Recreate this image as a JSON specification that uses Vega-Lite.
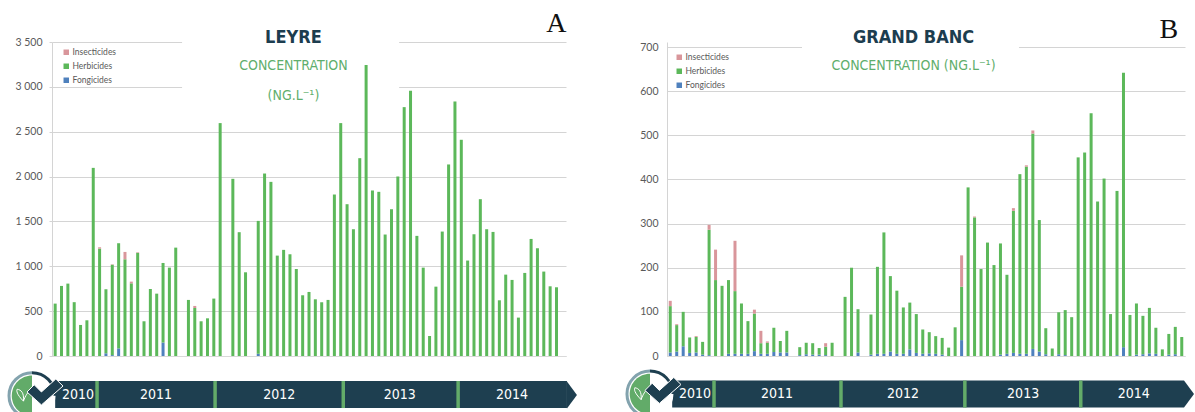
{
"$schema":"https://vega.github.io/schema/vega-lite/v6.json",
"background":"white",
"padding":{"left":3,"top":9,"right":0,"bottom":0},
"bounds":"flush",
"spacing":101,
"resolve":{"scale":{"color":"independent"},"legend":{"color":"independent"}},
"config":{"view":{"stroke":null},"scale":{"continuousPadding":0}},
"datasets":{
"leyre":[
{"n":0,"type":"Herbicides","v":584},{"n":1,"type":"Herbicides","v":781},{"n":2,"type":"Herbicides","v":807},{"n":3,"type":"Herbicides","v":600},{"n":4,"type":"Herbicides","v":346},{"n":5,"type":"Herbicides","v":398},{"n":6,"type":"Herbicides","v":2097},{"n":7,"type":"Herbicides","v":1197},{"n":7,"type":"Insecticides","v":15},{"n":8,"type":"Fongicides","v":30},{"n":8,"type":"Herbicides","v":714},{"n":9,"type":"Fongicides","v":10},{"n":9,"type":"Herbicides","v":1007},{"n":9,"type":"Insecticides","v":5},{"n":10,"type":"Fongicides","v":85},{"n":10,"type":"Herbicides","v":1172},{"n":11,"type":"Herbicides","v":1078},{"n":11,"type":"Insecticides","v":82},{"n":12,"type":"Herbicides","v":810},{"n":12,"type":"Insecticides","v":19},{"n":13,"type":"Herbicides","v":1150},{"n":13,"type":"Insecticides","v":6},{"n":14,"type":"Herbicides","v":387},{"n":15,"type":"Herbicides","v":747},{"n":16,"type":"Herbicides","v":695},{"n":17,"type":"Fongicides","v":150},{"n":17,"type":"Herbicides","v":887},{"n":18,"type":"Herbicides","v":985},{"n":19,"type":"Herbicides","v":1208},
{"n":21,"type":"Herbicides","v":625},{"n":22,"type":"Herbicides","v":535},{"n":22,"type":"Insecticides","v":23},{"n":23,"type":"Herbicides","v":387},{"n":24,"type":"Herbicides","v":420},{"n":25,"type":"Herbicides","v":640},{"n":26,"type":"Herbicides","v":2596},
{"n":28,"type":"Herbicides","v":1975},{"n":29,"type":"Herbicides","v":1380},{"n":30,"type":"Herbicides","v":933},
{"n":32,"type":"Fongicides","v":25},{"n":32,"type":"Herbicides","v":1481},{"n":33,"type":"Herbicides","v":2034},{"n":34,"type":"Herbicides","v":1941},{"n":35,"type":"Herbicides","v":1119},{"n":36,"type":"Herbicides","v":1183},{"n":37,"type":"Herbicides","v":1134},{"n":38,"type":"Herbicides","v":970},{"n":39,"type":"Herbicides","v":677},{"n":40,"type":"Herbicides","v":714},{"n":41,"type":"Herbicides","v":632},{"n":42,"type":"Herbicides","v":599},{"n":43,"type":"Herbicides","v":625},{"n":44,"type":"Herbicides","v":1800},{"n":45,"type":"Herbicides","v":2596},{"n":46,"type":"Herbicides","v":1692},{"n":47,"type":"Herbicides","v":1413},{"n":48,"type":"Herbicides","v":2205},{"n":49,"type":"Herbicides","v":3243},{"n":50,"type":"Herbicides","v":1845},{"n":51,"type":"Herbicides","v":1830},{"n":52,"type":"Herbicides","v":1354},{"n":53,"type":"Herbicides","v":1636},{"n":54,"type":"Herbicides","v":2001},{"n":55,"type":"Herbicides","v":2774},{"n":56,"type":"Herbicides","v":2956},{"n":57,"type":"Herbicides","v":1339},{"n":58,"type":"Herbicides","v":985},{"n":59,"type":"Herbicides","v":223},{"n":60,"type":"Herbicides","v":773},{"n":61,"type":"Herbicides","v":1387},{"n":62,"type":"Herbicides","v":2135},{"n":63,"type":"Herbicides","v":2837},{"n":64,"type":"Herbicides","v":2410},{"n":65,"type":"Herbicides","v":1064},{"n":66,"type":"Herbicides","v":1357},{"n":67,"type":"Herbicides","v":1748},{"n":68,"type":"Herbicides","v":1413},{"n":69,"type":"Herbicides","v":1383},{"n":70,"type":"Herbicides","v":621},{"n":71,"type":"Herbicides","v":907},{"n":72,"type":"Herbicides","v":848},{"n":73,"type":"Herbicides","v":428},{"n":74,"type":"Herbicides","v":926},{"n":75,"type":"Herbicides","v":1305},{"n":76,"type":"Herbicides","v":1201},{"n":77,"type":"Herbicides","v":941},{"n":78,"type":"Herbicides","v":777},{"n":79,"type":"Herbicides","v":766}],
"grandbanc":[
{"n":0,"type":"Fongicides","v":8},{"n":0,"type":"Herbicides","v":105},{"n":0,"type":"Insecticides","v":12},{"n":1,"type":"Fongicides","v":10},{"n":1,"type":"Herbicides","v":60},{"n":1,"type":"Insecticides","v":2},{"n":2,"type":"Fongicides","v":22},{"n":2,"type":"Herbicides","v":78},{"n":3,"type":"Fongicides","v":7},{"n":3,"type":"Herbicides","v":35},{"n":4,"type":"Fongicides","v":8},{"n":4,"type":"Herbicides","v":35},{"n":4,"type":"Insecticides","v":2},{"n":5,"type":"Fongicides","v":3},{"n":5,"type":"Herbicides","v":29},{"n":6,"type":"Fongicides","v":2},{"n":6,"type":"Herbicides","v":284},{"n":6,"type":"Insecticides","v":11},{"n":7,"type":"Herbicides","v":172},{"n":7,"type":"Insecticides","v":69},{"n":8,"type":"Herbicides","v":159},{"n":9,"type":"Fongicides","v":5},{"n":9,"type":"Herbicides","v":167},{"n":10,"type":"Fongicides","v":5},{"n":10,"type":"Herbicides","v":142},{"n":10,"type":"Insecticides","v":114},{"n":11,"type":"Fongicides","v":5},{"n":11,"type":"Herbicides","v":114},{"n":12,"type":"Fongicides","v":5},{"n":12,"type":"Herbicides","v":74},{"n":13,"type":"Fongicides","v":11},{"n":13,"type":"Herbicides","v":85},{"n":13,"type":"Insecticides","v":9},{"n":14,"type":"Fongicides","v":5},{"n":14,"type":"Herbicides","v":24},{"n":14,"type":"Insecticides","v":28},{"n":15,"type":"Fongicides","v":5},{"n":15,"type":"Herbicides","v":25},{"n":15,"type":"Insecticides","v":3},{"n":16,"type":"Fongicides","v":9},{"n":16,"type":"Herbicides","v":55},{"n":17,"type":"Fongicides","v":8},{"n":17,"type":"Herbicides","v":26},{"n":18,"type":"Fongicides","v":8},{"n":18,"type":"Herbicides","v":49},
{"n":20,"type":"Fongicides","v":2},{"n":20,"type":"Herbicides","v":18},{"n":21,"type":"Fongicides","v":4},{"n":21,"type":"Herbicides","v":26},{"n":22,"type":"Fongicides","v":3},{"n":22,"type":"Herbicides","v":26},{"n":23,"type":"Fongicides","v":3},{"n":23,"type":"Herbicides","v":15},{"n":24,"type":"Fongicides","v":2},{"n":24,"type":"Herbicides","v":19},{"n":24,"type":"Insecticides","v":8},{"n":25,"type":"Herbicides","v":30},
{"n":27,"type":"Herbicides","v":134},{"n":28,"type":"Herbicides","v":200},{"n":29,"type":"Fongicides","v":8},{"n":29,"type":"Herbicides","v":98},
{"n":31,"type":"Fongicides","v":3},{"n":31,"type":"Herbicides","v":91},{"n":32,"type":"Fongicides","v":5},{"n":32,"type":"Herbicides","v":197},{"n":33,"type":"Fongicides","v":5},{"n":33,"type":"Herbicides","v":275},{"n":34,"type":"Fongicides","v":10},{"n":34,"type":"Herbicides","v":171},{"n":35,"type":"Fongicides","v":5},{"n":35,"type":"Herbicides","v":143},{"n":36,"type":"Fongicides","v":5},{"n":36,"type":"Herbicides","v":105},{"n":37,"type":"Fongicides","v":15},{"n":37,"type":"Herbicides","v":106},{"n":38,"type":"Fongicides","v":7},{"n":38,"type":"Herbicides","v":88},{"n":39,"type":"Fongicides","v":5},{"n":39,"type":"Herbicides","v":55},{"n":40,"type":"Fongicides","v":6},{"n":40,"type":"Herbicides","v":48},{"n":41,"type":"Fongicides","v":5},{"n":41,"type":"Herbicides","v":40},{"n":42,"type":"Fongicides","v":3},{"n":42,"type":"Herbicides","v":38},{"n":43,"type":"Herbicides","v":19},{"n":44,"type":"Herbicides","v":65},{"n":45,"type":"Fongicides","v":36},{"n":45,"type":"Herbicides","v":121},{"n":45,"type":"Insecticides","v":71},{"n":46,"type":"Herbicides","v":382},{"n":47,"type":"Herbicides","v":314},{"n":47,"type":"Insecticides","v":2},{"n":48,"type":"Herbicides","v":197},{"n":49,"type":"Herbicides","v":257},{"n":50,"type":"Herbicides","v":206},{"n":51,"type":"Fongicides","v":3},{"n":51,"type":"Herbicides","v":252},{"n":52,"type":"Fongicides","v":5},{"n":52,"type":"Herbicides","v":179},{"n":53,"type":"Fongicides","v":7},{"n":53,"type":"Herbicides","v":322},{"n":53,"type":"Insecticides","v":6},{"n":54,"type":"Fongicides","v":5},{"n":54,"type":"Herbicides","v":407},{"n":55,"type":"Fongicides","v":5},{"n":55,"type":"Herbicides","v":424},{"n":55,"type":"Insecticides","v":3},{"n":56,"type":"Fongicides","v":16},{"n":56,"type":"Herbicides","v":488},{"n":56,"type":"Insecticides","v":7},{"n":57,"type":"Fongicides","v":10},{"n":57,"type":"Herbicides","v":298},{"n":58,"type":"Fongicides","v":4},{"n":58,"type":"Herbicides","v":59},{"n":59,"type":"Herbicides","v":17},{"n":60,"type":"Fongicides","v":4},{"n":60,"type":"Herbicides","v":95},{"n":61,"type":"Fongicides","v":2},{"n":61,"type":"Herbicides","v":102},{"n":62,"type":"Herbicides","v":88},{"n":63,"type":"Herbicides","v":450},{"n":64,"type":"Herbicides","v":461},{"n":65,"type":"Herbicides","v":550},{"n":66,"type":"Herbicides","v":350},{"n":67,"type":"Herbicides","v":402},{"n":68,"type":"Herbicides","v":95},{"n":69,"type":"Fongicides","v":2},{"n":69,"type":"Herbicides","v":372},{"n":70,"type":"Fongicides","v":20},{"n":70,"type":"Herbicides","v":622},{"n":71,"type":"Herbicides","v":93},{"n":72,"type":"Fongicides","v":3},{"n":72,"type":"Herbicides","v":116},{"n":73,"type":"Fongicides","v":4},{"n":73,"type":"Herbicides","v":87},{"n":74,"type":"Fongicides","v":6},{"n":74,"type":"Herbicides","v":103},{"n":75,"type":"Fongicides","v":5},{"n":75,"type":"Herbicides","v":59},{"n":76,"type":"Herbicides","v":15},{"n":77,"type":"Fongicides","v":3},{"n":77,"type":"Herbicides","v":47},{"n":78,"type":"Fongicides","v":4},{"n":78,"type":"Herbicides","v":62},{"n":79,"type":"Herbicides","v":43}],
"anneesA":[{"annee":"2010","debut":0,"fin":6.6,"centre":3.6},{"annee":"2011","debut":6.6,"fin":25.2,"centre":15.9},{"annee":"2012","debut":25.2,"fin":45.4,"centre":35.3},{"annee":"2013","debut":45.4,"fin":63.5,"centre":54.3},{"annee":"2014","debut":63.5,"fin":80.65,"centre":72}],
"anneesB":[{"annee":"2010","debut":0.3,"fin":6.76,"centre":3.82},{"annee":"2011","debut":6.76,"fin":26.37,"centre":16.5},{"annee":"2012","debut":26.37,"fin":45.5,"centre":35.95},{"annee":"2013","debut":45.5,"fin":63.4,"centre":54.5},{"annee":"2014","debut":63.4,"fin":79.35,"centre":71.6}]
},
"hconcat":[
{"width":514,"height":314,"layer":[
{"data":{"values":[{}]},"mark":{"type":"rect","fill":"white"},"encoding":{"x":{"datum":20,"type":"quantitative","scale":{"domain":[-0.5,80.5],"nice":false,"zero":false},"axis":{"title":null,"labels":false,"ticks":false,"grid":false,"domainColor":"#d9d9d9","domainWidth":1}},"x2":{"datum":54.2},"y":{"datum":2950,"type":"quantitative","scale":{"domain":[0,3500],"nice":false},"axis":{"title":null,"grid":true,"values":[0,500,1000,1500,2000,2500,3000,3500],"labelExpr":"replace(format(datum.value,','),',',' ')","gridColor":"#d4d4d4","gridWidth":1,"domainColor":"#d4d4d4","tickColor":"#d4d4d4","tickSize":3,"labelPadding":7,"labelFont":"Lato","labelFontSize":10.5,"labelColor":"#595959"}},"y2":{"datum":3560}}},
{"data":{"name":"leyre"},"mark":{"type":"bar","size":3},"encoding":{"x":{"field":"n","type":"quantitative","scale":{"domain":[-0.5,80.5],"nice":false,"zero":false}},"y":{"field":"v","type":"quantitative","aggregate":"sum"},"order":{"field":"type"},"color":{"field":"type","type":"nominal","scale":{"domain":["Insecticides","Herbicides","Fongicides"],"range":["#d9969b","#5cb85a","#4f81bd"]},"legend":{"title":null,"orient":"none","legendX":10,"legendY":6,"symbolType":"square","symbolSize":30,"labelFont":"Lato","labelFontSize":8.5,"labelColor":"#595959","labelOffset":2,"rowPadding":5}}}},
{"data":{"values":[{}]},"mark":{"type":"text","text":"LEYRE","font":"DejaVu Sans Condensed","fontWeight":"bold","fontSize":18,"fill":"#1c3d4f","align":"center","baseline":"alphabetic"},"encoding":{"x":{"datum":37.55},"y":{"datum":3489}}},
{"data":{"values":[{}]},"mark":{"type":"text","text":"CONCENTRATION","font":"DejaVu Sans Condensed","fontSize":14,"fill":"#5fae6c","align":"center","baseline":"alphabetic"},"encoding":{"x":{"datum":37.55},"y":{"datum":3188}}},
{"data":{"values":[{}]},"mark":{"type":"text","text":"(NG.L⁻¹)","font":"DejaVu Sans Condensed","fontSize":14,"fill":"#5fae6c","align":"center","baseline":"alphabetic"},"encoding":{"x":{"datum":37.55},"y":{"datum":2854}}},
{"data":{"values":[{}]},"mark":{"type":"text","text":"A","font":"Liberation Serif","fontSize":28,"fill":"#111111","align":"center","baseline":"alphabetic"},"encoding":{"x":{"datum":79},"y":{"datum":3612}}},
{"data":{"name":"anneesA"},"mark":{"type":"rect","fill":"#1e3f50"},"encoding":{"x":{"field":"debut","type":"quantitative","scale":{"domain":[-0.5,80.5],"nice":false,"zero":false}},"x2":{"field":"fin"},"y":{"datum":-279},"y2":{"datum":-580}}},
{"data":{"values":[{}]},"mark":{"type":"point","shape":"M0,-1L0.74,0L0,1Z","filled":true,"fill":"#1e3f50","opacity":1,"size":729},"encoding":{"x":{"datum":80.65},"y":{"datum":-435}}},
{"data":{"name":"anneesA"},"transform":[{"filter":"datum.annee != '2010'"}],"mark":{"type":"rule","stroke":"#63ab69","strokeWidth":3.5},"encoding":{"x":{"field":"debut","type":"quantitative","scale":{"domain":[-0.5,80.5],"nice":false,"zero":false}},"y":{"datum":-279},"y2":{"datum":-580}}},
{"data":{"name":"anneesA"},"mark":{"type":"text","font":"DejaVu Sans Condensed","fontSize":14,"fill":"white","align":"center","baseline":"middle"},"encoding":{"x":{"field":"centre","type":"quantitative","scale":{"domain":[-0.5,80.5],"nice":false,"zero":false}},"y":{"datum":-435},"text":{"field":"annee"}}},
{"data":{"values":[{}]},"mark":{"type":"point","shape":"circle","filled":true,"fill":"white","opacity":1,"size":2200},"encoding":{"x":{"datum":-3.65},"y":{"datum":-442}}},
{"data":{"values":[{}]},"mark":{"type":"point","shape":"M0,-1A1,1 0 0 0 0,1Z","filled":true,"fill":"#62ab69","opacity":1,"size":1640},"encoding":{"x":{"datum":-3.65},"y":{"datum":-442}}},
{"data":{"values":[{}]},"mark":{"type":"point","shape":"M0,-1A1,1 0 0 0 0,1","filled":false,"stroke":"#83a3ae","strokeWidth":3,"opacity":1,"size":2116},"encoding":{"x":{"datum":-3.65},"y":{"datum":-442}}},
{"data":{"values":[{}]},"mark":{"type":"point","shape":"M0,-1A1,1 0 0 1 1,0","filled":false,"stroke":"#1e3f50","strokeWidth":3,"opacity":1,"size":2116},"encoding":{"x":{"datum":-3.65},"y":{"datum":-442}}},
{"data":{"values":[{}]},"mark":{"type":"point","shape":"M0,1C-1,0 -1,-0.5 -0.9,-0.7C-0.3,-0.6 0.1,-0.2 0,1M0,1C0.3,0.2 0.6,-0.3 1,-0.5","filled":false,"stroke":"white","strokeWidth":1,"opacity":1,"size":196},"encoding":{"x":{"datum":-5},"y":{"datum":-425}}},
{"data":{"values":[{}]},"mark":{"type":"point","shape":"M-1,0L-0.6,-0.4L-0.2,0L0.6,-0.72L1,-0.33L-0.2,0.72Z","filled":true,"fill":"#1e3f50","stroke":"white","strokeWidth":1,"opacity":1,"size":1296},"encoding":{"x":{"datum":-1.6},"y":{"datum":-401}}}
]},
{"width":518,"height":314,"layer":[
{"data":{"values":[{}]},"mark":{"type":"rect","fill":"white"},"encoding":{"x":{"datum":20.35,"type":"quantitative","scale":{"domain":[-0.5,79.5],"nice":false,"zero":false},"axis":{"title":null,"labels":false,"ticks":false,"grid":false,"domainColor":"#d9d9d9","domainWidth":1}},"x2":{"datum":53.86},"y":{"datum":680,"type":"quantitative","scale":{"domain":[0,711.4],"nice":false},"axis":{"title":null,"grid":true,"values":[0,100,200,300,400,500,600,700],"gridColor":"#d4d4d4","gridWidth":1,"domainColor":"#d4d4d4","tickColor":"#d4d4d4","tickSize":0,"labelPadding":9,"labelFont":"Lato","labelFontSize":10.5,"labelColor":"#595959"}},"y2":{"datum":705}}},
{"data":{"name":"grandbanc"},"mark":{"type":"bar","size":3},"encoding":{"x":{"field":"n","type":"quantitative","scale":{"domain":[-0.5,79.5],"nice":false,"zero":false}},"y":{"field":"v","type":"quantitative","aggregate":"sum"},"order":{"field":"type"},"color":{"field":"type","type":"nominal","scale":{"domain":["Insecticides","Herbicides","Fongicides"],"range":["#d9969b","#5cb85a","#4f81bd"]},"legend":{"title":null,"orient":"none","legendX":8,"legendY":11,"symbolType":"square","symbolSize":30,"labelFont":"Lato","labelFontSize":8.5,"labelColor":"#595959","labelOffset":2,"rowPadding":5}}}},
{"data":{"values":[{}]},"mark":{"type":"text","text":"GRAND BANC","font":"DejaVu Sans Condensed","fontWeight":"bold","fontSize":18,"fill":"#1c3d4f","align":"center","baseline":"alphabetic"},"encoding":{"x":{"datum":37.57},"y":{"datum":709}}},
{"data":{"values":[{}]},"mark":{"type":"text","text":"CONCENTRATION (NG.L⁻¹)","font":"DejaVu Sans Condensed","fontSize":14,"fill":"#5fae6c","align":"center","baseline":"alphabetic"},"encoding":{"x":{"datum":37.57},"y":{"datum":648}}},
{"data":{"values":[{}]},"mark":{"type":"text","text":"B","font":"Liberation Serif","fontSize":28,"fill":"#111111","align":"center","baseline":"alphabetic"},"encoding":{"x":{"datum":77},"y":{"datum":720}}},
{"data":{"name":"anneesB"},"mark":{"type":"rect","fill":"#1e3f50"},"encoding":{"x":{"field":"debut","type":"quantitative","scale":{"domain":[-0.5,79.5],"nice":false,"zero":false}},"x2":{"field":"fin"},"y":{"datum":-55.5},"y2":{"datum":-116.7}}},
{"data":{"values":[{}]},"mark":{"type":"point","shape":"M0,-1L0.74,0L0,1Z","filled":true,"fill":"#1e3f50","opacity":1,"size":729},"encoding":{"x":{"datum":79.35},"y":{"datum":-86}}},
{"data":{"name":"anneesB"},"transform":[{"filter":"datum.annee != '2010'"}],"mark":{"type":"rule","stroke":"#63ab69","strokeWidth":3.5},"encoding":{"x":{"field":"debut","type":"quantitative","scale":{"domain":[-0.5,79.5],"nice":false,"zero":false}},"y":{"datum":-55.5},"y2":{"datum":-116.7}}},
{"data":{"name":"anneesB"},"mark":{"type":"text","font":"DejaVu Sans Condensed","fontSize":14,"fill":"white","align":"center","baseline":"middle"},"encoding":{"x":{"field":"centre","type":"quantitative","scale":{"domain":[-0.5,79.5],"nice":false,"zero":false}},"y":{"datum":-86},"text":{"field":"annee"}}},
{"data":{"values":[{}]},"mark":{"type":"point","shape":"circle","filled":true,"fill":"white","opacity":1,"size":2200},"encoding":{"x":{"datum":-3.13},"y":{"datum":-86}}},
{"data":{"values":[{}]},"mark":{"type":"point","shape":"M0,-1A1,1 0 0 0 0,1Z","filled":true,"fill":"#62ab69","opacity":1,"size":1640},"encoding":{"x":{"datum":-3.13},"y":{"datum":-86}}},
{"data":{"values":[{}]},"mark":{"type":"point","shape":"M0,-1A1,1 0 0 0 0,1","filled":false,"stroke":"#83a3ae","strokeWidth":3,"opacity":1,"size":2116},"encoding":{"x":{"datum":-3.13},"y":{"datum":-86}}},
{"data":{"values":[{}]},"mark":{"type":"point","shape":"M0,-1A1,1 0 0 1 1,0","filled":false,"stroke":"#1e3f50","strokeWidth":3,"opacity":1,"size":2116},"encoding":{"x":{"datum":-3.13},"y":{"datum":-86}}},
{"data":{"values":[{}]},"mark":{"type":"point","shape":"M0,1C-1,0 -1,-0.5 -0.9,-0.7C-0.3,-0.6 0.1,-0.2 0,1M0,1C0.3,0.2 0.6,-0.3 1,-0.5","filled":false,"stroke":"white","strokeWidth":1,"opacity":1,"size":196},"encoding":{"x":{"datum":-4.5},"y":{"datum":-83}}},
{"data":{"values":[{}]},"mark":{"type":"point","shape":"M-1,0L-0.6,-0.4L-0.2,0L0.6,-0.72L1,-0.33L-0.2,0.72Z","filled":true,"fill":"#1e3f50","stroke":"white","strokeWidth":1,"opacity":1,"size":1296},"encoding":{"x":{"datum":-1.12},"y":{"datum":-78}}}
]}
]
}
